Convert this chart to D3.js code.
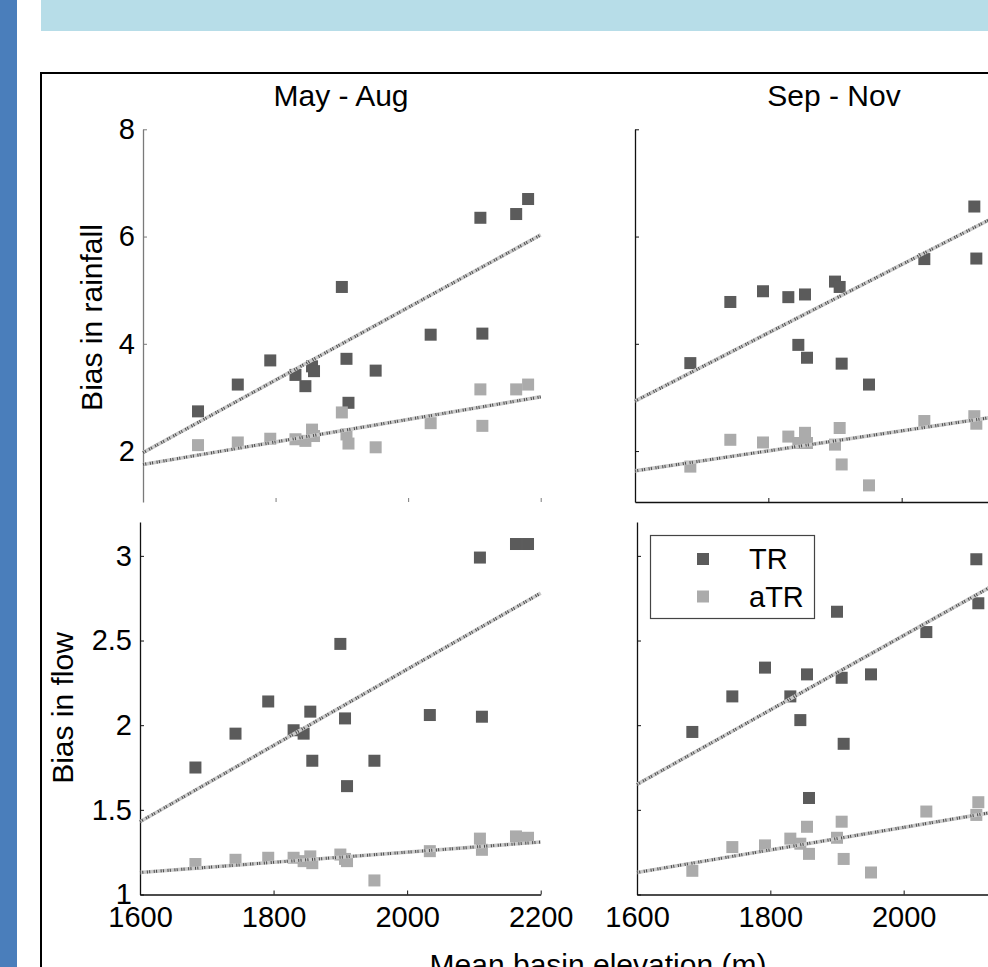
<!DOCTYPE html>
<html>
<head>
<meta charset="utf-8">
<script src="https://cdn.jsdelivr.net/npm/d3@7"></script>
<style>
  html, body { margin: 0; padding: 0; background: #fff; }
  svg { display: block; font-family: "Liberation Sans", Arial, Helvetica, sans-serif; }
</style>
</head>
<body>
<svg id="chart" width="988" height="967"></svg>
<script>
// Mean basin elevation (m) of each basin
const elevation = [1683, 1743, 1792, 1830, 1845, 1855, 1858, 1900, 1907, 1910, 1951, 2034, 2109, 2112, 2163, 2181];

// Bias in rainfall
const rainTR_MayAug  = [2.74, 3.24, 3.69, 3.42, 3.21, 3.58, 3.49, 5.06, 3.72, 2.90, 3.50, 4.17, 6.35, 4.19, 6.42, 6.70];
const rainATR_MayAug = [2.11, 2.16, 2.23, 2.22, 2.19, 2.40, 2.28, 2.72, 2.31, 2.14, 2.07, 2.52, 3.15, 2.47, 3.15, 3.24];
const rainTR_SepNov  = [3.64, 4.78, 4.98, 4.87, 3.98, 4.92, 3.74, 5.16, 5.06, 3.63, 3.24, 5.58, 6.56, 5.59, null, null];
const rainATR_SepNov = [1.71, 2.21, 2.16, 2.27, 2.15, 2.34, 2.15, 2.12, 2.43, 1.75, 1.36, 2.56, 2.65, 2.51, null, null];

// Bias in flow
const flowTR_MayAug  = [1.75, 1.95, 2.14, 1.97, 1.95, 2.08, 1.79, 2.48, 2.04, 1.64, 1.79, 2.06, 2.99, 2.05, 3.07, 3.07];
const flowATR_MayAug = [1.18, 1.205, 1.217, 1.217, 1.197, 1.225, 1.185, 1.236, 1.21, 1.197, 1.083, 1.256, 1.33, 1.264, 1.343, 1.335];
const flowTR_SepNov  = [1.96, 2.17, 2.34, 2.17, 2.03, 2.30, 1.57, 2.67, 2.28, 1.89, 2.30, 2.55, 2.98, 2.72, null, null];
const flowATR_SepNov = [1.14, 1.28, 1.29, 1.33, 1.30, 1.40, 1.24, 1.335, 1.43, 1.21, 1.13, 1.49, 1.47, 1.545, null, null];

// Linear fits: fitted value at 1600 m and at 2200 m
const fitRainTR_MayAug  = [1.97, 6.03];
const fitRainATR_MayAug = [1.75, 3.01];
const fitRainTR_SepNov  = [2.93, 6.75];
const fitRainATR_SepNov = [1.63, 2.75];
const fitFlowTR_MayAug  = [1.43, 2.78];
const fitFlowATR_MayAug = [1.13, 1.31];
const fitFlowTR_SepNov  = [1.65, 2.97];
const fitFlowATR_SepNov = [1.13, 1.53];

const fitElevation = [1600, 2200];
const seasons = ["May - Aug", "Sep - Nov"];
const seriesNames = ["TR", "aTR"];
const xTicks = [1600, 1800, 2000, 2200];
const rainTicks = [2, 4, 6, 8];
const flowTicks = [1, 1.5, 2, 2.5, 3];
const rainDomain = [1.05, 8];
const flowDomain = [1, 3.2];
const xDomain = [1600, 2200];

const COLORS = { TR: "#5b5b5b", aTR: "#ababab" };
const svg = d3.select("#chart");

// page decoration: side bar, header band, figure frame
svg.append("rect").attr("x", 0).attr("y", 0).attr("width", 988).attr("height", 967).attr("fill", "#fff");
svg.append("rect").attr("x", 0).attr("y", 0).attr("width", 17).attr("height", 967).attr("fill", "#4a7ebb");
svg.append("rect").attr("x", 41).attr("y", 0).attr("width", 947).attr("height", 31).attr("fill", "#b7dde8");
svg.append("rect").attr("x", 41).attr("y", 73).attr("width", 1000).attr("height", 1000)
  .attr("fill", "none").attr("stroke", "#000").attr("stroke-width", 2);

const panels = [
  { season: 0, x0: 143, x1: 540.7, y0: 502, y1: 129.3, domain: rainDomain, ticks: rainTicks,
    tr: rainTR_MayAug, atr: rainATR_MayAug, fitTR: fitRainTR_MayAug, fitATR: fitRainATR_MayAug,
    yLabels: true, xLabels: false, xLine: false, axisColor: "#7a7a7a" },
  { season: 1, x0: 635, x1: 1035, y0: 502, y1: 129.3, domain: rainDomain, ticks: rainTicks,
    tr: rainTR_SepNov, atr: rainATR_SepNov, fitTR: fitRainTR_SepNov, fitATR: fitRainATR_SepNov,
    yLabels: false, xLabels: false, xLine: true, axisColor: "#111" },
  { season: 0, x0: 140, x1: 540.7, y0: 894.5, y1: 522, domain: flowDomain, ticks: flowTicks,
    tr: flowTR_MayAug, atr: flowATR_MayAug, fitTR: fitFlowTR_MayAug, fitATR: fitFlowATR_MayAug,
    yLabels: true, xLabels: true, xLine: true, axisColor: "#111" },
  { season: 1, x0: 637, x1: 1037, y0: 894.5, y1: 522, domain: flowDomain, ticks: flowTicks,
    tr: flowTR_SepNov, atr: flowATR_SepNov, fitTR: fitFlowTR_SepNov, fitATR: fitFlowATR_SepNov,
    yLabels: false, xLabels: true, xLine: true, axisColor: "#111" }
];

const fmt = d => String(d);

panels.forEach(p => {
  const x = d3.scaleLinear().domain(xDomain).range([p.x0, p.x1]);
  const y = d3.scaleLinear().domain(p.domain).range([p.y0, p.y1]);
  const g = svg.append("g");

  // y axis, ticks pointing inward
  const yAxis = d3.axisLeft(y).tickValues(p.ticks).tickSizeInner(-4).tickSizeOuter(0)
    .tickPadding(8).tickFormat(p.yLabels ? fmt : () => "");
  const ya = g.append("g").attr("transform", `translate(${p.x0},0)`).call(yAxis);
  ya.select(".domain").attr("stroke", p.axisColor).attr("stroke-width", 1.3);
  ya.selectAll(".tick line").attr("stroke", p.axisColor);
  ya.selectAll(".tick text").attr("font-size", 29).attr("fill", "#000")
    .attr("font-family", "Liberation Sans, Arial, sans-serif");

  // x axis, ticks pointing inward
  const xAxis = d3.axisBottom(x).tickValues(xTicks).tickSizeInner(-4).tickSizeOuter(0)
    .tickPadding(12).tickFormat(p.xLabels ? fmt : () => "");
  const xa = g.append("g").attr("transform", `translate(0,${p.y0})`).call(xAxis);
  if (p.xLine) xa.select(".domain").attr("stroke", "#111").attr("stroke-width", 1.3);
  else xa.select(".domain").remove();
  xa.selectAll(".tick line").attr("stroke", p.axisColor);
  xa.selectAll(".tick text").attr("font-size", 29).attr("fill", "#000")
    .attr("font-family", "Liberation Sans, Arial, sans-serif");

  // scatter markers
  const drawPts = (vals, color) => {
    const pts = elevation.map((e, i) => ({ e, v: vals[i] })).filter(d => d.v != null);
    g.append("g").selectAll("rect").data(pts).join("rect")
      .attr("x", d => x(d.e) - 6).attr("y", d => y(d.v) - 6)
      .attr("width", 12).attr("height", 12).attr("fill", color);
  };
  drawPts(p.tr, COLORS.TR);
  drawPts(p.atr, COLORS.aTR);

  // fitted lines, drawn as a grey band with fine dark dots
  const drawFit = (fit) => {
    const pts = fitElevation.map((e, i) => [x(e), y(fit[i])]);
    const line = d3.line();
    g.append("path").attr("d", line(pts)).attr("stroke", "#c9c9c9")
      .attr("stroke-width", 3.6).attr("fill", "none");
    g.append("path").attr("d", line(pts)).attr("stroke", "#4a4a4a")
      .attr("stroke-width", 3).attr("fill", "none")
      .attr("stroke-dasharray", "1,1.3,1,3.6");
  };
  drawFit(p.fitTR);
  drawFit(p.fitATR);
});

// season titles
const titleX = [341, 834];
seasons.forEach((s, i) => {
  svg.append("text").attr("x", titleX[i]).attr("y", 106).attr("text-anchor", "middle")
    .attr("font-size", 30).text(s);
});

// axis titles
svg.append("text").attr("transform", "translate(101.5,317.5) rotate(-90)")
  .attr("text-anchor", "middle").attr("font-size", 30).text("Bias in rainfall");
svg.append("text").attr("transform", "translate(73,708) rotate(-90)")
  .attr("text-anchor", "middle").attr("font-size", 30).text("Bias in flow");
svg.append("text").attr("x", 598).attr("y", 975).attr("text-anchor", "middle")
  .attr("font-size", 30).text("Mean basin elevation (m)");

// legend
const lg = svg.append("g");
lg.append("rect").attr("x", 650.5).attr("y", 535.5).attr("width", 164).attr("height", 83)
  .attr("fill", "#fff").attr("stroke", "#444").attr("stroke-width", 1.2);
seriesNames.forEach((n, i) => {
  const cy = 559 + i * 37.5;
  lg.append("rect").attr("x", 697).attr("y", cy - 6).attr("width", 12).attr("height", 12)
    .attr("fill", COLORS[n]);
  lg.append("text").attr("x", 749).attr("y", cy + 10).attr("font-size", 29).text(n);
});
</script>
</body>
</html>
